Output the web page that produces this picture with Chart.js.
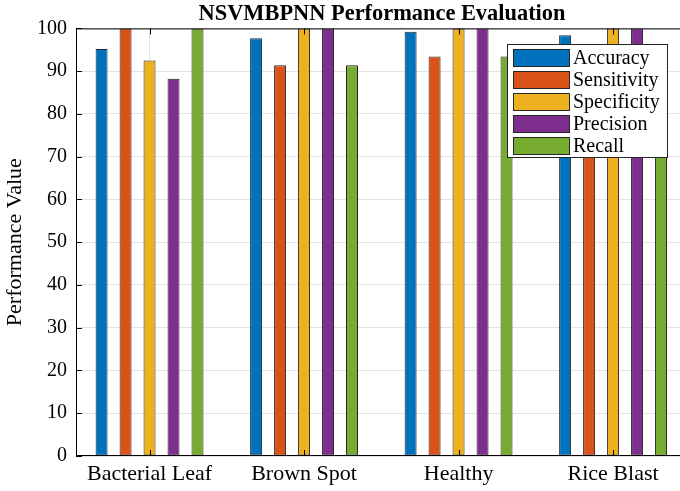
<!DOCTYPE html>
<html>
<head>
<meta charset="utf-8">
<script src="https://cdn.jsdelivr.net/npm/chart.js@4.4.1/dist/chart.umd.min.js"></script>
<style>
  html, body { margin: 0; padding: 0; background: #fff; overflow: hidden; }
  #wrap { width: 764px; height: 491px; position: relative; }
</style>
</head>
<body>
<div id="wrap"><canvas id="c"></canvas></div>
<script>
// ---- data ----
const categories = ['Bacterial Leaf', 'Brown Spot', 'Healthy', 'Rice Blast'];
const seriesNames = ['Accuracy', 'Sensitivity', 'Specificity', 'Precision', 'Recall'];
const accuracy    = [95.2, 97.7, 99.2, 98.4];
const sensitivity = [100, 91.4, 93.4, 94.0];
const specificity = [92.5, 100, 100, 100];
const precision   = [88.2, 100, 100, 100];
const recall      = [100, 91.4, 93.4, 94.0];
const yTicks = [0, 10, 20, 30, 40, 50, 60, 70, 80, 90, 100];

const seriesValues = [accuracy, sensitivity, specificity, precision, recall];
const colors = ['#0072BD', '#D95319', '#EDB120', '#7E2F8E', '#77AC30'];
const FONT = '"Liberation Serif", "Times New Roman", serif';

const datasets = seriesNames.map((name, k) => ({
  label: name,
  data: categories.map((c, i) => ({ x: i + 1, y: seriesValues[k][i] })),
  backgroundColor: colors[k],
  borderColor: '#262626',
  borderWidth: 1,
  borderSkipped: false,
  categoryPercentage: 0.776,
  barPercentage: 0.5
}));

const framePlugin = {
  id: 'frame',
  afterDatasetsDraw(chart) {
    const { ctx, chartArea: a, scales } = chart;
    ctx.save();
    ctx.strokeStyle = '#000';
    ctx.lineWidth = 1;
    ctx.beginPath();
    ctx.moveTo(a.left, a.top + 0.5); ctx.lineTo(a.right, a.top + 0.5);
    ctx.moveTo(a.right - 0.5, a.top); ctx.lineTo(a.right - 0.5, a.bottom);
    ctx.moveTo(a.left + 0.5, a.top); ctx.lineTo(a.left + 0.5, a.bottom);
    ctx.moveTo(a.left, a.bottom - 0.5); ctx.lineTo(a.right, a.bottom - 0.5);
    scales.y.ticks.forEach(t => {
      const py = Math.round(scales.y.getPixelForValue(t.value)) + 0.5;
      ctx.moveTo(a.left, py); ctx.lineTo(a.left + 6, py);
      ctx.moveTo(a.right, py); ctx.lineTo(a.right - 6, py);
    });
    scales.x.ticks.forEach(t => {
      const px = Math.round(scales.x.getPixelForValue(t.value)) + 0.5;
      ctx.moveTo(px, a.bottom); ctx.lineTo(px, a.bottom - 6);
      ctx.moveTo(px, a.top); ctx.lineTo(px, a.top + 6);
    });
    ctx.stroke();
    ctx.restore();
  },
  afterDraw(chart) {
    const { ctx } = chart;
    const bx = 507, by = 44, bw = 160, bh = 113;
    ctx.save();
    ctx.fillStyle = '#fff';
    ctx.fillRect(bx, by, bw, bh);
    ctx.strokeStyle = '#262626';
    ctx.lineWidth = 1;
    ctx.strokeRect(bx + 0.5, by + 0.5, bw, bh);
    ctx.font = '20px ' + FONT;
    ctx.textBaseline = 'middle';
    ctx.textAlign = 'left';
    chart.data.datasets.forEach((ds, i) => {
      const py = by + 5 + i * 22;
      ctx.fillStyle = ds.backgroundColor;
      ctx.fillRect(513, py, 56, 17);
      ctx.strokeStyle = '#262626';
      ctx.strokeRect(513.5, py + 0.5, 56, 17);
      ctx.fillStyle = '#000';
      ctx.fillText(ds.label, 573, py + 9.5);
    });
    ctx.restore();
  }
};

new Chart(document.getElementById('c'), {
  type: 'bar',
  data: { datasets },
  options: {
    responsive: true,
    maintainAspectRatio: false,
    animation: false,
    layout: { padding: 0 },
    plugins: {
      legend: { display: false },
      tooltip: { enabled: false },
      title: {
        display: true,
        text: 'NSVMBPNN Performance Evaluation',
        color: '#000',
        font: { family: FONT, size: 22.4, weight: 'bold', lineHeight: 1 },
        padding: { top: 3, bottom: 3 }
      }
    },
    scales: {
      x: {
        type: 'linear',
        offset: false,
        min: 0.524,
        max: 4.472,
        afterBuildTicks: s => { s.ticks = categories.map((c, i) => ({ value: i + 1 })); },
        afterFit: s => { s.height = 35; },
        ticks: {
          callback: v => categories[Math.round(v) - 1],
          color: '#000',
          font: { family: FONT, size: 22 },
          padding: 5,
          maxRotation: 0,
          autoSkip: false
        },
        grid: { color: '#e3e3e3', drawTicks: false, lineWidth: 1, offset: false },
        border: { display: false }
      },
      y: {
        min: 0,
        max: 100,
        afterBuildTicks: s => { s.ticks = yTicks.map(v => ({ value: v })); },
        afterFit: s => { s.width = 76; },
        ticks: {
          color: '#000',
          font: { family: FONT, size: 20 },
          padding: 9
        },
        grid: { color: '#e3e3e3', drawTicks: false, lineWidth: 1 },
        border: { display: false },
        title: {
          display: true,
          text: 'Performance Value',
          color: '#000',
          font: { family: FONT, size: 22 },
          padding: { top: 2, bottom: 0 }
        }
      },
      yRight: {
        position: 'right',
        min: 0,
        max: 100,
        afterFit: s => { s.width = 78; },
        ticks: { display: false },
        grid: { drawOnChartArea: false, drawTicks: false },
        border: { display: false }
      }
    }
  },
  plugins: [framePlugin]
});
</script>
</body>
</html>
